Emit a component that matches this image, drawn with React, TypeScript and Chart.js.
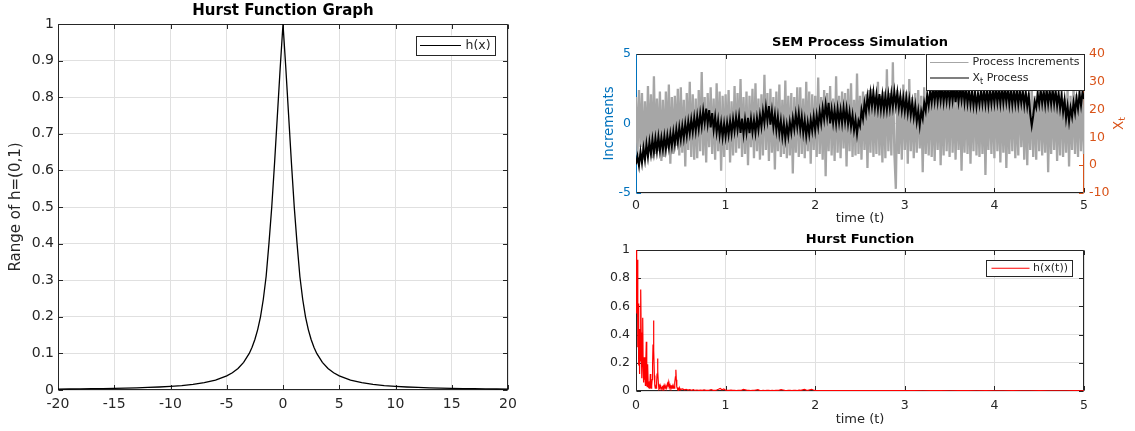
import React, { useEffect, useRef } from "react";
import { Chart, registerables } from "chart.js";
Chart.register(...registerables);

const FONT = "'DejaVu Sans', sans-serif";
const AX = "#262626";
const GRID = "#e0e0e0";
const BLUE = "rgb(0,114,189)";
const ORANGE = "rgb(217,83,25)";
const GRAY = "#a6a6a6";

// ---------- Left chart: Hurst function h(x) ----------
const hurstX = [
  -20, -19, -18, -17, -16, -15, -14, -13, -12, -11, -10, -9, -8, -7, -6,
  -5, -4.5, -4, -3.5, -3, -2.75, -2.5, -2.25, -2, -1.75, -1.5, -1.25, -1, -0.75, -0.5, -0.25,
  0,
  0.25, 0.5, 0.75, 1, 1.25, 1.5, 1.75, 2, 2.25, 2.5, 2.75, 3, 3.5, 4, 4.5, 5,
  6, 7, 8, 9, 10, 11, 12, 13, 14, 15, 16, 17, 18, 19, 20,
];
const hurstY = [
  0.0025, 0.0028, 0.0031, 0.0035, 0.0039, 0.0044, 0.0051, 0.0059, 0.0069, 0.0082, 0.0099, 0.0122, 0.0154, 0.02, 0.027,
  0.0385, 0.0471, 0.0588, 0.0755, 0.1, 0.117, 0.138, 0.165, 0.2, 0.248, 0.31, 0.4, 0.5, 0.62, 0.75, 0.88,
  1,
  0.88, 0.75, 0.62, 0.5, 0.4, 0.31, 0.248, 0.2, 0.165, 0.138, 0.117, 0.1, 0.0755, 0.0588, 0.0471, 0.0385,
  0.027, 0.02, 0.0154, 0.0122, 0.0099, 0.0082, 0.0069, 0.0059, 0.0051, 0.0044, 0.0039, 0.0035, 0.0031, 0.0028, 0.0025,
];
const leftXTicks = [-20, -15, -10, -5, 0, 5, 10, 15, 20];
const leftYTicks = [0, 0.1, 0.2, 0.3, 0.4, 0.5, 0.6, 0.7, 0.8, 0.9, 1];

// ---------- Top right: SEM process simulation ----------
const timeTicks = [0, 1, 2, 3, 4, 5];
const incTicks = [-5, 0, 5];
const xtTicks = [-10, 0, 10, 20, 30, 40];
const T_END = 5;

const incrementValues = [
  1.9, -2.3, 2.4, -1.7, 2.2, -2.6, 1.6, -2.1, 2.7, -1.9,
  2.1, -2.5, 3.4, -2.2, 1.8, -2.0, 2.3, -2.7, 1.7, -2.4,
  2.3, -1.8, 2.8, -2.9, 1.9, -2.2, 2.0, -1.6, 2.5, -2.3,
  2.6, -2.1, 1.7, -3.1, 2.2, -1.9, 3.0, -2.4, 2.1, -2.6,
  1.8, -2.5, 2.4, -2.0, 3.7, -2.3, 1.9, -2.8, 2.2, -1.7,
  2.6, -2.2, 1.8, -2.6, 2.9, -2.0, 2.3, -3.4, 2.0, -2.4,
  2.1, -1.9, 2.4, -2.8, 1.6, -2.3, 2.7, -2.1, 2.2, -1.8,
  3.2, -2.4, 1.9, -2.2, 2.3, -3.0, 2.0, -1.7, 2.5, -2.5,
  2.9, -2.0, 1.8, -2.6, 2.1, -2.3, 3.5, -1.9, 2.2, -2.7,
  2.5, -2.1, 1.9, -3.3, 2.3, -2.0, 2.8, -2.4, 1.7, -2.2,
  3.1, -2.5, 2.0, -2.3, 2.2, -3.6, 1.9, -2.1, 2.6, -2.4,
  2.6, -2.2, 1.8, -2.5, 3.0, -2.0, 2.3, -2.9, 2.1, -1.9,
  2.0, -2.4, 3.3, -2.2, 1.9, -2.6, 2.4, -3.8, 2.2, -2.0,
  2.7, -2.3, 1.8, -2.7, 3.4, -2.1, 2.0, -2.5, 2.3, -1.8,
  2.2, -3.1, 2.5, -2.0, 2.9, -2.4, 1.7, -2.3, 3.6, -2.2,
  2.0, -2.6, 2.3, -1.9, 2.1, -3.2, 2.4, -2.1, 2.5, -2.4,
  1.9, -2.2, 3.0, -2.3, 2.0, -2.8, 2.3, -2.5, 3.9, -2.0,
  2.2, -2.3, 4.4, -2.1, -4.7, 2.4, -2.2, 2.0, -2.6, 2.8,
  -1.9, 2.3, -2.9, 3.2, -2.0, 1.9, -2.5, 2.2, -2.1, 2.4,
  -1.8, 2.0, -3.5, 2.6, -2.2, 1.7, -2.3, 3.1, -2.4, 2.0,
  -2.7, 2.2, -1.9, 2.5, -3.0, 2.1, -2.3, 2.9, -2.0, 1.8,
  -2.4, 3.3, -2.1, 2.0, -2.6, 2.3, -1.9, 2.2, -3.4, 2.1,
  -2.1, 2.7, -2.2, 1.9, -2.9, 2.4, -2.0, 3.0, -2.3, 1.8,
  -2.4, 2.0, -2.2, 2.6, -3.7, 2.1, -1.9, 2.4, -2.2, 2.3,
  -2.5, 3.1, -2.0, 1.9, -2.8, 2.3, -2.1, 2.2, -3.2, 1.8,
  -2.2, 2.4, -2.0, 2.9, -2.5, 1.9, -2.3, 3.4, -1.7, 2.1,
  -2.6, 2.1, -3.0, 2.2, -1.9, 2.6, -2.4, 2.0, -2.6, 3.0,
  -2.0, 2.3, -2.3, 1.7, -2.1, 2.8, -3.5, 2.1, -2.2, 2.4,
  -1.9, 2.2, -2.7, 2.0, -2.3, 3.2, -2.4, 1.8, -2.1, 2.5,
  -3.1, 2.0, -1.9, 2.7, -2.2, 2.1, -2.4, 3.0, -2.0, 1.9,
  -2.2,
];

const processValues = [
  0.3, 3.2, -0.2, 4.9, 0.9, 6.1, 2.0, 7.5, 3.0, 8.4,
  4.1, 9.2, 4.6, 9.6, 5.0, 10.1, 5.3, 9.8, 5.6, 10.4,
  5.7, 10.6, 6.4, 11.2, 6.9, 11.9, 7.5, 12.8, 8.4, 13.6,
  9.2, 14.1, 9.8, 14.9, 10.6, 15.7, 11.5, 16.4, 12.0, 17.1,
  12.4, 17.6, 13.1, 18.5, 14.0, 19.6, 15.2, 20.4, 14.9, 19.8,
  13.6, 18.7, 12.8, 17.4, 11.9, 16.2, 10.8, 15.3, 10.1, 14.9,
  10.3, 15.2, 10.9, 15.8, 11.4, 16.6, 12.3, 17.2, 12.8, 17.5,
  11.6, 16.8, 11.3, 16.4, 11.8, 17.0, 11.5, 16.7, 11.9, 16.3,
  11.7, 16.9, 12.8, 18.0, 13.9, 19.4, 15.2, 20.8, 16.1, 21.3,
  14.6, 19.5, 13.8, 18.2, 12.6, 17.4, 11.5, 16.0, 10.3, 15.1,
  9.6, 14.5, 10.5, 15.6, 11.8, 16.9, 13.0, 18.2, 13.7, 18.6,
  12.8, 17.4, 11.6, 16.1, 10.5, 15.4, 11.2, 16.3, 12.4, 17.5,
  12.6, 17.9, 13.8, 19.2, 15.1, 20.6, 16.5, 21.9, 17.2, 22.4,
  15.0, 20.1, 15.2, 19.8, 14.9, 20.3, 15.4, 19.9, 15.1, 20.6,
  15.6, 20.3, 14.8, 19.1, 13.9, 18.0, 12.6, 16.4, 11.2, 15.9,
  14.1, 19.8, 16.7, 22.3, 18.8, 24.6, 20.5, 25.9, 21.2, 26.1,
  20.6, 25.4, 20.3, 25.6, 20.1, 25.2, 19.9, 24.8, 20.0, 25.3,
  20.5, 25.7, 21.0, 26.4, 21.4, 26.0, 20.6, 24.9, 19.8, 24.3,
  19.4, 24.2, 18.9, 23.5, 18.1, 22.6, 17.3, 21.4, 15.7, 19.6,
  14.3, 19.4, 16.8, 22.5, 19.6, 25.4, 21.5, 26.9, 22.6, 27.8,
  23.0, 28.1, 22.9, 27.9, 23.2, 28.3, 22.8, 27.6, 23.1, 28.0,
  22.9, 27.8, 23.3, 28.4, 22.7, 28.1, 23.0, 27.7, 23.4, 28.2,
  22.6, 27.5, 22.3, 27.0, 21.9, 26.6, 21.5, 26.2, 21.2, 25.8,
  21.9, 27.0, 22.1, 26.8, 22.0, 27.2, 21.8, 26.9, 22.2, 27.1,
  22.4, 27.6, 22.6, 27.3, 22.2, 27.8, 22.5, 27.4, 22.7, 27.5,
  22.0, 27.1, 21.8, 26.9, 22.1, 27.2, 21.9, 26.7, 22.3, 26.8,
  21.6, 26.4, 21.2, 25.3, 18.4, 14.2, 17.8, 22.9, 20.8, 25.6,
  21.9, 27.0, 22.2, 26.8, 21.8, 27.1, 22.1, 26.9, 22.0, 27.2,
  22.1, 26.8, 21.4, 26.0, 20.5, 24.8, 19.2, 23.5, 16.9, 21.2,
  15.8, 20.6, 17.4, 22.5, 18.9, 24.1, 20.3, 25.6, 21.5, 26.4,
  23.8,
];

// ---------- Bottom right: Hurst function h(x(t)) ----------
const hTicks = [0, 0.2, 0.4, 0.6, 0.8, 1];
// t = 0 .. 0.5, step 0.005
const hurstEarly = [
  1.0, 0.98, 0.55, 0.93, 0.31, 0.62, 0.18, 0.44, 0.12, 0.36,
  0.21, 0.72, 0.28, 0.09, 0.41, 0.52, 0.17, 0.06, 0.24, 0.08,
  0.15, 0.04, 0.22, 0.35, 0.11, 0.03, 0.19, 0.07, 0.02, 0.05,
  0.02, 0.04, 0.12, 0.03, 0.02, 0.04, 0.08, 0.18, 0.33, 0.5,
  0.29, 0.11, 0.04, 0.02, 0.03, 0.02, 0.06, 0.12, 0.23, 0.14,
  0.05, 0.02, 0.03, 0.02, 0.04, 0.03, 0.02, 0.03, 0.02, 0.03,
  0.02, 0.03, 0.02, 0.04, 0.03, 0.02, 0.03, 0.02, 0.04, 0.03,
  0.05, 0.04, 0.06, 0.03, 0.05, 0.03, 0.04, 0.02, 0.03, 0.02,
  0.04, 0.02, 0.03, 0.02, 0.03, 0.02, 0.04, 0.06, 0.1, 0.15,
  0.08, 0.03, 0.02, 0.015, 0.02, 0.01, 0.015, 0.01, 0.02, 0.01,
  0.012,
];
// t = 0.52 .. 2.0, step 0.02
const hurstMid = [
  0.015, 0.008, 0.012, 0.006, 0.01, 0.005, 0.009, 0.004, 0.007, 0.005,
  0.006, 0.004, 0.008, 0.005, 0.004, 0.006, 0.009, 0.005, 0.004, 0.007,
  0.012, 0.018, 0.009, 0.014, 0.006, 0.005, 0.004, 0.006, 0.005, 0.004,
  0.003, 0.005, 0.004, 0.006, 0.011, 0.008, 0.005, 0.004, 0.003, 0.005,
  0.004, 0.007, 0.009, 0.005, 0.003, 0.004, 0.003, 0.005, 0.004, 0.003,
  0.004, 0.003, 0.005, 0.004, 0.006, 0.009, 0.007, 0.004, 0.003, 0.005,
  0.004, 0.003, 0.004, 0.005, 0.003, 0.006, 0.004, 0.008, 0.011, 0.006,
  0.005, 0.009, 0.012, 0.007, 0.004,
];
// t = 2.1 .. 5.0, step 0.1
const hurstLate = [
  0.003, 0.002, 0.003, 0.002, 0.002, 0.003, 0.002, 0.002, 0.003, 0.002,
  0.002, 0.001, 0.002, 0.002, 0.001, 0.002, 0.002, 0.001, 0.002, 0.001,
  0.001, 0.002, 0.001, 0.001, 0.002, 0.001, 0.001, 0.001, 0.002, 0.001,
];

// ---------- drawing helpers ----------
type Part = { text: string; size: number; dy?: number; bold?: boolean };
function drawRich(ctx: any, parts: Part[], x: number, y: number, color: string, rot = 0, align = "center") {
  ctx.save();
  ctx.translate(x, y);
  ctx.rotate(rot);
  ctx.fillStyle = color;
  ctx.textBaseline = "middle";
  ctx.textAlign = "left";
  let w = 0;
  for (const p of parts) {
    ctx.font = `${p.bold ? "bold " : ""}${p.size}px ${FONT}`;
    w += ctx.measureText(p.text).width;
  }
  let cx = align === "center" ? -w / 2 : 0;
  for (const p of parts) {
    ctx.font = `${p.bold ? "bold " : ""}${p.size}px ${FONT}`;
    ctx.fillText(p.text, cx, p.dy || 0);
    cx += ctx.measureText(p.text).width;
  }
  ctx.restore();
}

type LegendItem = { color: string; width: number; x1: number; x2: number; y: number; tx: number; parts: Part[] };
type Deco = {
  texts: Array<{ parts: Part[]; x: number; y: number; color: string; rot?: number }>;
  legend: { box: [number, number, number, number]; items: LegendItem[] };
  spine: { left: string; right: string; top: string; bottom: string };
  tickLen: number;
  xTicks: number[];
  yTicks: number[];
  y1Ticks?: number[];
};

function makeDeco(d: Deco) {
  return {
    id: "deco",
    // axes box and inward ticks sit under the data, like the reference
    beforeDatasetsDraw(chart: any) {
      const ctx = chart.ctx;
      const a = chart.chartArea;
      const xs = chart.scales.x;
      const ys = chart.scales.y;
      const y1 = chart.scales.y1;
      const L = Math.round(a.left) + 0.5;
      const R = Math.round(a.right) - 0.5;
      const T = Math.round(a.top) + 0.5;
      const B = Math.round(a.bottom) - 0.5;
      ctx.save();
      ctx.lineWidth = 1;
      const line = (x1: number, y1_: number, x2: number, y2: number, c: string) => {
        ctx.strokeStyle = c;
        ctx.beginPath();
        ctx.moveTo(x1, y1_);
        ctx.lineTo(x2, y2);
        ctx.stroke();
      };
      const tl = d.tickLen;
      for (const v of d.xTicks) {
        const p = Math.round(xs.getPixelForValue(v)) + 0.5;
        line(p, B, p, B - tl, d.spine.bottom);
        line(p, T, p, T + tl, d.spine.top);
      }
      for (const v of d.yTicks) {
        const p = Math.round(ys.getPixelForValue(v)) + 0.5;
        line(L, p, L + tl, p, d.spine.left);
        if (!y1) line(R, p, R - tl, p, d.spine.right);
      }
      if (y1 && d.y1Ticks) {
        for (const v of d.y1Ticks) {
          const p = Math.round(y1.getPixelForValue(v)) + 0.5;
          line(R, p, R - tl, p, d.spine.right);
        }
      }
      line(L, T, R, T, d.spine.top);
      line(L, B, R, B, d.spine.bottom);
      line(L, T, L, B, d.spine.left);
      line(R, T, R, B, d.spine.right);
      ctx.restore();
    },
    afterDraw(chart: any) {
      const ctx = chart.ctx;
      ctx.save();
      const [bx1, by1, bx2, by2] = d.legend.box;
      ctx.fillStyle = "#ffffff";
      ctx.fillRect(bx1, by1, bx2 - bx1, by2 - by1);
      ctx.lineWidth = 1;
      ctx.strokeStyle = AX;
      ctx.strokeRect(Math.round(bx1) + 0.5, Math.round(by1) + 0.5, Math.round(bx2 - bx1) - 1, Math.round(by2 - by1) - 1);
      for (const it of d.legend.items) {
        ctx.strokeStyle = it.color;
        ctx.lineWidth = it.width;
        ctx.beginPath();
        ctx.moveTo(it.x1, it.y);
        ctx.lineTo(it.x2, it.y);
        ctx.stroke();
        drawRich(ctx, it.parts, it.tx, it.y, AX, 0, "left");
      }
      ctx.restore();
      for (const t of d.texts) drawRich(ctx, t.parts, t.x, t.y, t.color, t.rot || 0, "center");
    },
  };
}

function fixedTicks(arr: number[]) {
  return (s: any) => {
    s.ticks = arr.map((v) => ({ value: v }));
  };
}
const fmt = (v: any) => String(Math.round(Number(v) * 10) / 10);

export default function App() {
  const c1 = useRef<HTMLCanvasElement>(null);
  const c2 = useRef<HTMLCanvasElement>(null);
  const c3 = useRef<HTMLCanvasElement>(null);

  useEffect(() => {
    const charts: Chart[] = [];
    const base = {
      responsive: false,
      animation: false as const,
      events: [] as any[],
      plugins: { legend: { display: false }, tooltip: { enabled: false }, title: { display: false } },
    };

    // ---- chart 1 ----
    charts.push(
      new Chart(c1.current as HTMLCanvasElement, {
        type: "line",
        data: {
          datasets: [
            {
              data: hurstX.map((x, i) => ({ x, y: hurstY[i] })),
              borderColor: "#000000",
              borderWidth: 1.3,
              pointRadius: 0,
              tension: 0,
              fill: false,
            },
          ],
        },
        options: {
          ...base,
          layout: { padding: { left: 0, top: 24, right: 32, bottom: 0 } },
          scales: {
            x: {
              type: "linear",
              min: -20,
              max: 20,
              afterBuildTicks: fixedTicks(leftXTicks),
              afterFit: (s: any) => { s.height = 41; },
              grid: { color: GRID, drawTicks: false },
              border: { display: false },
              ticks: { padding: 6, color: AX, font: { family: FONT, size: 14 }, maxRotation: 0, autoSkip: false, callback: (v: any) => String(v) },
            },
            y: {
              type: "linear",
              min: 0,
              max: 1,
              afterBuildTicks: fixedTicks(leftYTicks),
              afterFit: (s: any) => { s.width = 58; },
              grid: { color: GRID, drawTicks: false },
              border: { display: false },
              ticks: { padding: 4, color: AX, font: { family: FONT, size: 14 }, autoSkip: false, callback: fmt },
            },
          },
        } as any,
        plugins: [
          makeDeco({
            texts: [
              { parts: [{ text: "Hurst Function Graph", size: 15, bold: true }], x: 283, y: 11.5, color: "#000000" },
              { parts: [{ text: "Range of h=(0,1)", size: 15 }], x: 16.5, y: 207, color: AX, rot: -Math.PI / 2 },
            ],
            legend: {
              box: [415.5, 35.5, 495, 55],
              items: [{ color: "#000000", width: 1.2, x1: 420, x2: 461, y: 45.5, tx: 465.5, parts: [{ text: "h(x)", size: 12.5 }] }],
            },
            spine: { left: AX, right: AX, top: AX, bottom: AX },
            tickLen: 4.5,
            xTicks: leftXTicks,
            yTicks: leftYTicks,
          }),
        ],
      })
    );

    // ---- chart 2 ----
    const step = T_END / (incrementValues.length - 1);
    charts.push(
      new Chart(c2.current as HTMLCanvasElement, {
        type: "line",
        data: {
          datasets: [
            {
              label: "X_t Process",
              data: processValues.map((v, i) => ({ x: i * step, y: v })),
              yAxisID: "y1",
              borderColor: "#000000",
              borderWidth: 2,
              pointRadius: 0,
              tension: 0,
              fill: false,
              order: 0,
            },
            {
              label: "Process Increments",
              data: incrementValues.map((v, i) => ({ x: i * step, y: v })),
              yAxisID: "y",
              borderColor: GRAY,
              borderWidth: 2.3,
              pointRadius: 0,
              tension: 0,
              fill: false,
              order: 1,
            },
          ],
        },
        options: {
          ...base,
          layout: { padding: { left: 0, top: 54, right: 0, bottom: 0 } },
          scales: {
            x: {
              type: "linear",
              min: 0,
              max: 5,
              afterBuildTicks: fixedTicks(timeTicks),
              afterFit: (s: any) => { s.height = 38; },
              grid: { color: GRID, drawTicks: false },
              border: { display: false },
              ticks: { padding: 5, color: AX, font: { family: FONT, size: 12.5 }, maxRotation: 0, autoSkip: false, callback: (v: any) => String(v) },
            },
            y: {
              type: "linear",
              position: "left",
              min: -5,
              max: 5,
              afterBuildTicks: fixedTicks(incTicks),
              afterFit: (s: any) => { s.width = 96; },
              grid: { color: GRID, drawTicks: false },
              border: { display: false },
              ticks: { padding: 5, color: BLUE, font: { family: FONT, size: 12.5 }, autoSkip: false, callback: (v: any) => String(v) },
            },
            y1: {
              type: "linear",
              position: "right",
              min: -10,
              max: 40,
              afterBuildTicks: fixedTicks(xtTicks),
              afterFit: (s: any) => { s.width = 51; },
              grid: { display: false, drawTicks: false },
              border: { display: false },
              ticks: { padding: 5, color: ORANGE, font: { family: FONT, size: 12.5 }, autoSkip: false, callback: (v: any) => String(v) },
            },
          },
        } as any,
        plugins: [
          makeDeco({
            texts: [
              { parts: [{ text: "SEM Process Simulation", size: 13, bold: true }], x: 320, y: 42.5, color: "#000000" },
              { parts: [{ text: "Increments", size: 13.2 }], x: 70, y: 123.5, color: BLUE, rot: -Math.PI / 2 },
              { parts: [{ text: "X", size: 13.5 }, { text: "t", size: 9.5, dy: 4 }], x: 579, y: 123.5, color: ORANGE, rot: -Math.PI / 2 },
              { parts: [{ text: "time (t)", size: 13 }], x: 320, y: 219, color: AX },
            ],
            legend: {
              box: [385.5, 54, 544, 90.5],
              items: [
                { color: GRAY, width: 1, x1: 390, x2: 428.5, y: 62.5, tx: 432.5, parts: [{ text: "Process Increments", size: 11 }] },
                { color: "#000000", width: 1.2, x1: 390, x2: 429, y: 78, tx: 432.5, parts: [{ text: "X", size: 11 }, { text: "t", size: 8, dy: 3.5 }, { text: " Process", size: 11 }] },
              ],
            },
            spine: { left: BLUE, right: ORANGE, top: AX, bottom: AX },
            tickLen: 4.5,
            xTicks: timeTicks,
            yTicks: incTicks,
            y1Ticks: xtTicks,
          }),
        ],
      })
    );

    // ---- chart 3 ----
    const redPts: { x: number; y: number }[] = [];
    hurstEarly.forEach((v, i) => redPts.push({ x: i * 0.005, y: v }));
    hurstMid.forEach((v, i) => redPts.push({ x: 0.52 + i * 0.02, y: v }));
    hurstLate.forEach((v, i) => redPts.push({ x: 2.1 + i * 0.1, y: v }));
    charts.push(
      new Chart(c3.current as HTMLCanvasElement, {
        type: "line",
        data: {
          datasets: [
            {
              label: "h(x(t))",
              data: redPts,
              borderColor: "#ff0000",
              borderWidth: 1.2,
              pointRadius: 0,
              tension: 0,
              fill: false,
            },
          ],
        },
        options: {
          ...base,
          layout: { padding: { left: 0, top: 30, right: 51, bottom: 0 } },
          scales: {
            x: {
              type: "linear",
              min: 0,
              max: 5,
              afterBuildTicks: fixedTicks(timeTicks),
              afterFit: (s: any) => { s.height = 40; },
              grid: { color: GRID, drawTicks: false },
              border: { display: false },
              ticks: { padding: 7, color: AX, font: { family: FONT, size: 12.5 }, maxRotation: 0, autoSkip: false, callback: (v: any) => String(v) },
            },
            y: {
              type: "linear",
              min: 0,
              max: 1,
              afterBuildTicks: fixedTicks(hTicks),
              afterFit: (s: any) => { s.width = 96; },
              grid: { color: GRID, drawTicks: false },
              border: { display: false },
              ticks: { padding: 6, color: AX, font: { family: FONT, size: 12.5 }, autoSkip: false, callback: fmt },
            },
          },
        } as any,
        plugins: [
          makeDeco({
            texts: [
              { parts: [{ text: "Hurst Function", size: 13, bold: true }], x: 320, y: 20, color: "#000000" },
              { parts: [{ text: "time (t)", size: 13 }], x: 320, y: 200, color: AX },
            ],
            legend: {
              box: [446, 40, 532.5, 56.5],
              items: [{ color: "#ff0000", width: 1.1, x1: 451.5, x2: 489.5, y: 48.3, tx: 493, parts: [{ text: "h(x(t))", size: 11 }] }],
            },
            spine: { left: AX, right: AX, top: AX, bottom: AX },
            tickLen: 4.5,
            xTicks: timeTicks,
            yTicks: hTicks,
          }),
        ],
      })
    );

    return () => charts.forEach((c) => c.destroy());
  }, []);

  return (
    <div style={{ position: "absolute", left: 0, top: 0, width: 1135, height: 431, background: "#ffffff", overflow: "hidden" }}>
      <canvas ref={c1} width={540} height={431} style={{ position: "absolute", left: 0, top: 0, width: 540, height: 431 }} />
      <canvas ref={c2} width={595} height={231} style={{ position: "absolute", left: 540, top: 0, width: 595, height: 231 }} />
      <canvas ref={c3} width={595} height={211} style={{ position: "absolute", left: 540, top: 220, width: 595, height: 211 }} />
    </div>
  );
}
